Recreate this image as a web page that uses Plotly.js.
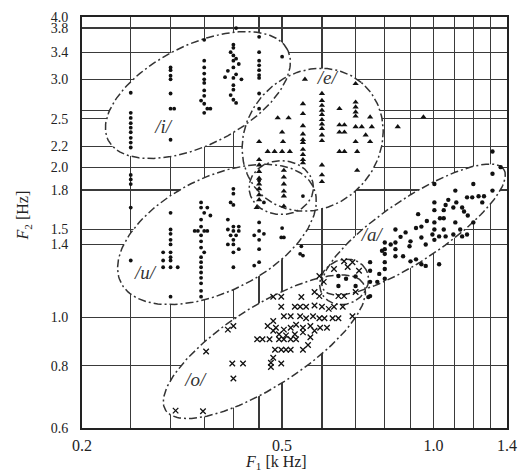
<!DOCTYPE html>
<html><head><meta charset="utf-8">
<script src="https://cdn.plot.ly/plotly-3.0.1.min.js"></script>
<style>html,body{margin:0;padding:0;background:#fff}#chart{width:524px;height:476px}</style>
</head><body><div id="chart"></div>
<script>
// ---- axis ticks / grid ----
const xTickVals = [0.2,0.5,1.0,1.4];
const xTickText = ['0.2','0.5','1.0','1.4'];
const xGridVals = [0.25,0.3,0.35,0.4,0.45,0.6,0.7,0.8,0.9,1.1,1.2,1.3];
const yTickVals = [0.6,0.8,1.0,1.4,1.5,1.8,2.0,2.2,2.5,3.0,3.4,3.8,4.0];
const yTickText = ['0.6','0.8','1.0','1.4','1.5','1.8','2.0','2.2','2.5','3.0','3.4','3.8','4.0'];
const yGridVals = [2.6];

// ---- /i/ (dots) ----
const iF1 = [0.25,0.25,0.25,0.25,0.25,0.25,0.25,0.25,0.25,
  0.3,0.3,0.3,0.3,0.3,0.3,0.305,0.3,
  0.35,0.35,0.35,0.35,0.35,0.35,0.35,0.35,0.345,0.35,0.355,0.36,0.35,
  0.405,0.4,0.4,0.395,0.4,0.405,0.4,0.41,0.4,0.39,0.405,0.385,0.4,0.415,0.4,0.4,0.395,0.4,0.405,
  0.45,0.45,0.45,0.45,0.45,0.45,0.45,0.45,0.45,0.5];
const iF2 = [2.82,2.57,2.51,2.45,2.40,2.35,2.29,2.24,2.19,
  3.17,3.13,3.05,3.0,2.81,2.62,2.62,2.27,
  3.6,3.27,3.17,3.08,3.0,2.95,2.85,2.78,2.72,2.68,2.62,2.62,2.57,
  3.8,3.52,3.47,3.40,3.35,3.3,3.27,3.22,3.17,3.12,3.07,3.03,3.02,3.0,2.92,2.86,2.79,2.73,2.69,
  3.65,3.4,3.27,3.2,3.13,3.06,3.02,2.81,2.62,3.33];

// ---- /e/ (triangles) ----
const eF1 = [0.555,0.70,
  0.6,0.6,0.6,0.6,0.6,0.6,0.6,0.6,0.6,0.6,0.6,0.6,0.6,
  0.55,0.55,0.55,0.55,0.55,0.55,0.55,0.55,0.55,0.55,
  0.49,0.515,0.5,0.502,0.468,0.483,0.5,0.518,0.45,
  0.65,0.65,0.665,0.65,0.665,0.65,0.665,
  0.70,0.70,0.70,0.70,0.70,0.72,0.70,0.705,0.705,
  0.748,0.754,0.733,0.748,0.849,0.955,
  0.45,0.45,0.45,0.45,0.45,0.45,0.45,0.45,0.504,0.504,0.504,0.504,0.504,0.504,0.445];
const eF2 = [3.0,2.94,
  2.81,2.72,2.66,2.60,2.55,2.49,2.44,2.39,2.32,2.26,2.02,1.93,1.87,
  2.68,2.56,2.42,2.33,2.27,2.24,2.17,2.12,2.07,2.04,
  2.51,2.51,2.35,2.25,2.15,2.15,2.15,2.15,2.25,
  2.62,2.43,2.43,2.35,2.35,2.15,2.15,
  2.70,2.64,2.58,2.53,2.41,2.41,2.25,2.15,1.97,
  2.52,2.41,2.32,2.25,2.41,2.52,
  2.07,2.02,1.96,1.90,1.85,1.81,1.76,1.72,1.97,1.91,1.85,1.79,1.75,1.67,1.66];

// ---- /u/ (dots) ----
const uF1 = [0.25,0.25,0.25,0.25,0.25,
  0.3,0.3,0.3,0.3,0.3,0.3,0.3,0.29,0.29,0.3,0.29,0.3,0.31,0.3,
  0.345,0.345,0.35,0.345,0.345,0.335,0.34,0.35,0.355,0.345,0.345,0.345,0.35,0.345,0.345,0.345,0.345,0.345,0.345,0.345,0.345,0.355,0.36,
  0.4,0.4,0.395,0.4,0.39,0.4,0.41,0.39,0.4,0.41,0.395,0.405,0.4,0.39,0.4,0.41,0.4,0.4,
  0.45,0.45,0.44,0.45,0.46,0.45,0.45,0.44,
  0.498,0.504,0.5,0.543,0.55,0.546,0.45,0.46,0.55];
const uF2 = [1.93,1.89,1.85,1.66,1.30,
  1.62,1.5,1.47,1.43,1.40,1.35,1.32,1.35,1.30,1.30,1.26,1.26,1.26,1.10,
  1.70,1.66,1.62,1.57,1.52,1.49,1.49,1.49,1.49,1.46,1.42,1.38,1.35,1.32,1.29,1.26,1.23,1.20,1.17,1.13,1.10,1.66,1.60,
  1.81,1.77,1.70,1.68,1.57,1.52,1.52,1.50,1.49,1.49,1.46,1.46,1.43,1.40,1.40,1.37,1.35,1.26,
  1.55,1.49,1.46,1.43,1.47,1.37,1.29,1.27,
  1.446,1.446,1.51,1.34,1.33,1.388,1.88,1.70,1.75];

// ---- /a/ (dots) ----
const aF1 = [1.31,1.31,1.36,1.31,1.004,1.105,1.2,1.166,1.194,1.229,1.26,1.057,1.095,1.14,1.15,
  1.004,1.004,1.004,1.004,1.004,1.048,1.048,1.048,1.105,0.995,1.026,1.057,1.095,1.14,1.166,
  0.932,0.946,0.946,0.84,0.88,0.923,0.80,0.80,0.80,0.80,0.80,0.80,0.84,0.84,0.84,
  0.896,0.87,0.90,0.923,0.946,0.965,1.026,0.748,0.748,0.748,0.748,0.773,0.78,0.79,0.965,0.822,0.742,
  0.647,0.647,0.70,0.70,0.67,
  1.07,1.11,1.03,0.97,1.17,1.2,1.25,0.86,0.9,1.13];
const aF2 = [2.15,1.94,2.0,1.795,1.85,1.795,1.85,1.74,1.74,1.749,1.749,1.68,1.66,1.66,1.63,
  1.70,1.64,1.55,1.50,1.43,1.64,1.58,1.50,1.55,1.466,1.453,1.453,1.466,1.453,1.466,
  1.61,1.52,1.446,1.50,1.48,1.51,1.413,1.37,1.34,1.29,1.25,1.195,1.413,1.37,1.326,
  1.388,1.326,1.295,1.307,1.278,1.268,1.278,1.29,1.24,1.178,1.103,1.178,1.222,1.36,1.40,1.40,1.098,
  1.21,1.156,1.207,1.156,1.195,
  1.72,1.70,1.58,1.56,1.60,1.55,1.70,1.45,1.42,1.50];

// ---- /o/ (crosses) ----
const oF1 = [0.48,0.498,0.546,0.58,0.593,0.498,0.53,0.543,0.558,0.58,0.60,0.619,0.634,0.66,0.647,0.69,
  0.504,0.52,0.543,0.558,0.576,0.593,0.607,0.63,0.48,0.468,0.486,0.504,0.52,0.533,0.55,0.569,0.58,0.595,0.614,
  0.39,0.40,0.48,0.493,0.509,0.53,0.55,0.569,0.446,0.457,0.472,0.493,0.504,0.52,0.533,
  0.353,0.484,0.498,0.509,0.52,0.55,0.563,0.48,0.475,0.498,0.475,0.398,0.418,0.40,0.307,0.348,
  0.634,0.675,0.711,0.593,0.605,0.70,0.664,0.647,0.664,0.69];
const oF2 = [1.10,1.10,1.098,1.124,1.103,1.05,1.05,1.05,1.05,1.056,1.05,1.04,1.05,1.05,0.996,1.005,
  1.005,1.005,1.005,0.996,1.005,0.996,0.996,0.996,0.983,0.961,0.953,0.945,0.953,0.966,0.953,0.961,0.94,0.953,0.953,
  0.945,0.961,0.94,0.925,0.92,0.925,0.933,0.912,0.904,0.904,0.904,0.904,0.904,0.904,0.904,
  0.854,0.861,0.861,0.861,0.861,0.861,0.88,0.83,0.811,0.808,0.795,0.808,0.808,0.754,0.65,0.648,
  1.25,1.262,1.24,1.21,1.178,1.124,1.103,1.103,1.295,1.29];

// ---- vowel labels ----
const labelText = ['/i/','/e/','/u/','/a/','/o/'];
const labelF1 = [0.29,0.615,0.267,0.754,0.336];
const labelF2 = [2.39,3.0,1.222,1.453,0.745];

// ---- region ellipses (centre in data units, semi-axes in decades, angle in degrees) ----
const regions = [
  {f1:0.340, f2:2.79, a:0.200, b:0.100, angle:27},
  {f1:0.575, f2:2.27, a:0.150, b:0.133, angle:50},
  {f1:0.371, f2:1.466, a:0.214, b:0.114, angle:27},
  {f1:0.913, f2:1.50, a:0.216, b:0.062, angle:34},
  {f1:0.461, f2:0.873, a:0.234, b:0.080, angle:33},
  {f1:0.498, f2:1.82, a:0.064, b:0.054, angle:0},
  {f1:0.664, f2:1.178, a:0.050, b:0.044, angle:30}
];

function ellipse(c){
  const cx=Math.log10(c.f1), cy=Math.log10(c.f2), t=c.angle*Math.PI/180, n=160;
  const xs=[], ys=[];
  for(let k=0;k<=n;k++){
    const s=2*Math.PI*k/n, u=c.a*Math.cos(s), v=c.b*Math.sin(s);
    xs.push(Math.pow(10, cx+u*Math.cos(t)-v*Math.sin(t)));
    ys.push(Math.pow(10, cy+u*Math.sin(t)+v*Math.cos(t)));
  }
  return {xs, ys};
}

const traces = [];
regions.forEach(r=>{ const e=ellipse(r);
  traces.push({x:e.xs, y:e.ys, mode:'lines', fill:'toself', fillcolor:'#ffffff',
    line:{width:0, color:'rgba(0,0,0,0)'}, hoverinfo:'skip', showlegend:false}); });
regions.forEach(r=>{ const e=ellipse(r);
  traces.push({x:e.xs, y:e.ys, mode:'lines',
    line:{width:1.5, color:'#333', dash:'8px,3px,2px,3px'}, hoverinfo:'skip', showlegend:false}); });

traces.push({x:iF1, y:iF2, mode:'markers', marker:{symbol:'circle', size:3.8, color:'#111'}, showlegend:false});
traces.push({x:uF1, y:uF2, mode:'markers', marker:{symbol:'circle', size:3.8, color:'#111'}, showlegend:false});
traces.push({x:aF1, y:aF2, mode:'markers', marker:{symbol:'circle', size:4.4, color:'#111'}, showlegend:false});
traces.push({x:eF1, y:eF2, mode:'markers', marker:{symbol:'triangle-up', size:5.5, color:'#111'}, showlegend:false});
traces.push({x:oF1, y:oF2, mode:'markers', marker:{symbol:'x-thin', size:5.5, color:'#111', line:{width:1.3, color:'#111'}}, showlegend:false});
traces.push({x:labelF1, y:labelF2, mode:'text', text:labelText,
  textfont:{family:'Liberation Serif', size:19, color:'#333', style:'italic'}, showlegend:false, hoverinfo:'skip'});

const gridColor = '#3a3a3a';
const axisCommon = {type:'log', showline:true, mirror:true, linecolor:'#222', linewidth:2,
  showgrid:true, gridcolor:gridColor, gridwidth:1.3, zeroline:false, ticks:'', tickmode:'array'};

const layout = {
  width:524, height:476,
  margin:{l:82, r:17, t:17, b:48},
  paper_bgcolor:'#fff', plot_bgcolor:'#fff',
  showlegend:false,
  xaxis:Object.assign({}, axisCommon, {range:[Math.log10(0.2), Math.log10(1.4)],
    tickvals:xTickVals, ticktext:xTickText, ticklabelstandoff:2,
    minor:{tickmode:'array', tickvals:xGridVals, showgrid:true, gridcolor:gridColor, gridwidth:1.3, ticks:''},
    tickfont:{family:'Liberation Serif', size:16, color:'#222'}}),
  yaxis:Object.assign({}, axisCommon, {range:[Math.log10(0.6), Math.log10(4.0)],
    tickvals:yTickVals, ticktext:yTickText, ticklabelstandoff:9,
    minor:{tickmode:'array', tickvals:yGridVals, showgrid:true, gridcolor:gridColor, gridwidth:1.3, ticks:''},
    tickfont:{family:'Liberation Serif', size:14, color:'#222'}}),
  annotations:[
    {xref:'paper', yref:'paper', x:0.456, y:-0.085, xanchor:'center', yanchor:'middle', showarrow:false,
     text:'<i>F</i><sub>1</sub> [k Hz]', font:{family:'Liberation Serif', size:16, color:'#222'}},
    {xref:'paper', yref:'paper', x:-0.138, y:0.518, xanchor:'center', yanchor:'middle', showarrow:false, textangle:-90,
     text:'<i>F</i><sub>2</sub> [Hz]', font:{family:'Liberation Serif', size:16, color:'#222'}}
  ]
};

Plotly.newPlot('chart', traces, layout, {staticPlot:true, displayModeBar:false});
</script>
</body></html>
